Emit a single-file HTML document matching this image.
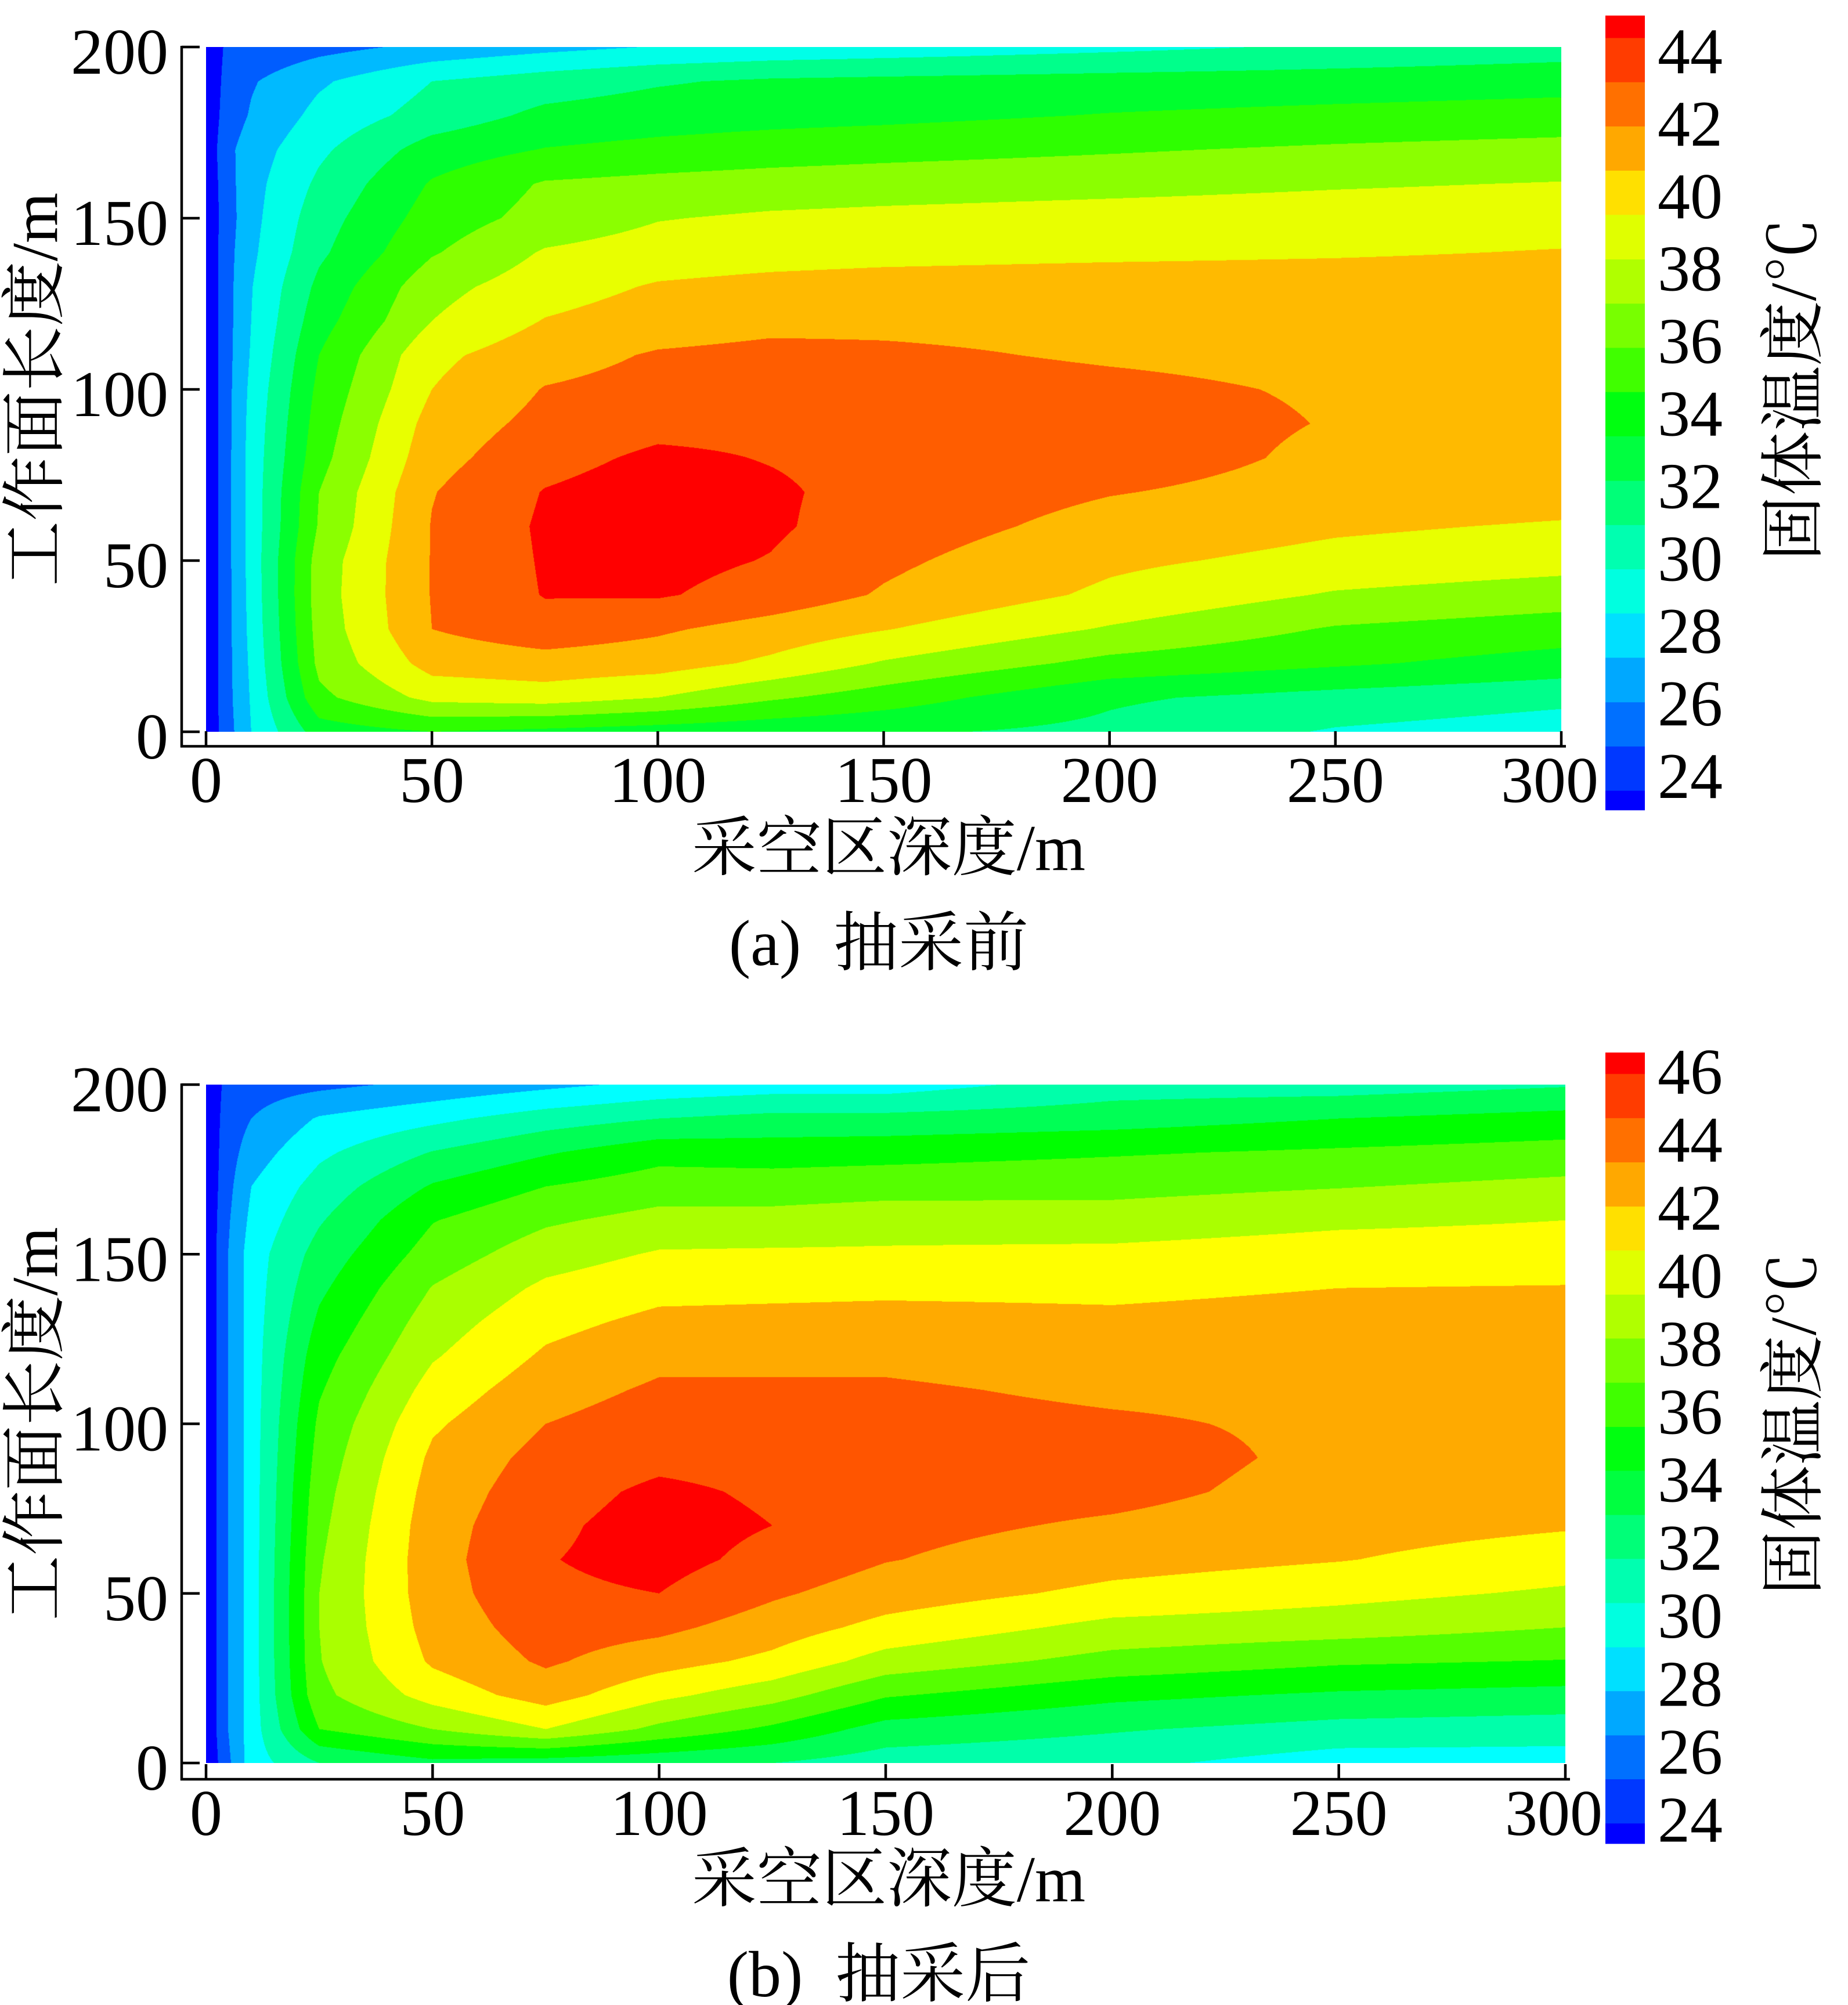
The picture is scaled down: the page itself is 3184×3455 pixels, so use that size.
<!DOCTYPE html>
<html><head><meta charset="utf-8">
<style>
html,body{margin:0;padding:0;background:#fff;}
#page{position:relative;width:3184px;height:3455px;overflow:hidden;background:#fff;}
canvas{position:absolute;}
svg{position:absolute;left:0;top:0;}
text{font-family:"Liberation Serif","Noto Serif CJK SC",serif;fill:#000;}
</style></head>
<body>
<div id="page">
<canvas id="cvA"></canvas>
<canvas id="cvB"></canvas>
<svg id="ov" width="3184" height="3455" viewBox="0 0 3184 3455"></svg>
</div>
<script>
// ---- data ----
const gridX = [0,4,10,25,50,75,100,125,150,200,250,300];
const gridY = [0,10,20,30,40,50,60,70,80,90,100,110,120,130,140,150,160,170,180,190,200];
const tempA = [
[22,24.8,28,33,34,33.5,33,32.6,32.3,31.5,29.8,29],
[22,25,28.2,35.5,38.6,39,38,36.3,35,32.3,31.3,30.5],
[22,25,28.4,36.5,40.8,41.2,40.9,39.6,37.8,35.4,34.3,33.2],
[22,25,28.6,36.8,42,43.2,42.3,41.2,40.1,37.8,35.8,35],
[22,25,28.7,37,42.1,44.1,44.2,43.2,41.8,39.6,37.8,37],
[22,25,28.8,36.9,42.1,44.2,44.6,43.9,42.4,40.4,39.4,38.8],
[22,25,28.8,36.2,42.1,44.3,45.2,44.3,43,41.3,40.3,39.8],
[22,25,28.8,36,41.9,44.1,45,44.3,43.3,42.1,41.3,40.9],
[22,25,28.8,35.3,41.3,43.3,44.4,43.9,43.4,42.9,41.6,41.4],
[22,25,28.7,34.9,40.8,42.6,43.4,43.5,43.3,42.8,41.9,41.5],
[22,25,28.5,34.5,40,42.1,42.7,42.9,42.8,42.4,41.8,41.4],
[22,25,28.2,34,39.5,41.2,42.2,42.5,42.3,41.8,41.5,41.3],
[22,25,28,33.2,38,40.1,41,41.5,41.6,41.5,41.4,41.3],
[22,25,27.9,32.5,37.3,39.1,40.2,40.6,40.8,41,41,41],
[22,25,27.6,31.6,35.8,38.2,38.9,39.2,39.4,39.6,39.8,40.1],
[22,24.8,27.4,31.1,34.9,36.7,37.9,38.3,38.5,38.8,39,39.2],
[22,25,27.3,30.4,34.2,36.2,36.6,36.9,37.1,37.4,37.8,38.1],
[22,25.3,27,29.6,32.9,34.1,34.6,35,35.3,35.8,36.3,36.7],
[22,24.7,26.2,28.6,30.8,32.5,33,33.3,33.5,34.1,34.5,34.8],
[22,24.4,25.8,27.7,30,31,31.8,32.3,32.5,32.8,33,33.3],
[22,24.1,24.4,25.3,26.5,27.4,28.1,28.5,28.8,29.5,30.3,31]
];
const tempB = [
[22,25,29,32,33.5,33,32.5,32,31,30.5,29,29],
[22,25.5,29,36,38,40,37.5,35.6,33.2,32.2,31.3,31],
[22,25.5,29,37.5,40.8,42.9,40.5,38.8,36.2,34.5,33.7,33.3],
[22,25.5,29,37.9,42.3,44.3,42.8,41.5,39.2,37.3,36.3,35.9],
[22,25.5,29,38,42.8,45,44.5,43,41.4,39.4,38.9,38],
[22,25.5,29,38,43.1,45.6,46,44.3,43,41.5,40.6,39.7],
[22,25.5,29,37.8,43.2,45.9,46.7,45.4,44.1,42.8,42.1,41],
[22,25.5,29,37.5,43.1,45.6,46.8,46,44.6,43.7,42.8,42.2],
[22,25.5,29,37.2,42.8,45.2,46.4,45.7,45,44.6,43.2,42.8],
[22,25.5,29,36.8,42.4,44.7,45.5,45.3,45.1,44.9,43.5,43.2],
[22,25.5,29,36.4,41.7,44,45,44.8,44.8,44.3,43.6,43.4],
[22,25.5,29,35.8,40.8,43.2,44.3,44.3,44.3,43.6,43.5,43.3],
[22,25.5,29,35.2,39.8,42.3,43.5,43.5,43.5,42.9,43.2,43],
[22,25.5,29,34.4,39,41.4,42.5,42.6,42.7,42.4,42.7,42.6],
[22,25.5,29,33.6,38.1,40.4,41.4,41.5,41.6,41.6,42,42.1],
[22,25.5,29,32.8,36.9,39.1,40.2,40.3,40.3,40.5,41,41],
[22,25.3,28.5,31.8,35.9,37.7,38.7,38.7,39.1,38.9,39.6,40],
[22,25,28,30.8,34.2,36,37,37,37.2,37.4,37.9,38.5],
[22,24.8,27,29.6,32.1,33.8,35.3,35.1,35.3,35.8,36.3,36.8],
[22,24.6,26,28.2,29.5,31,32,32.6,32.6,33.1,34,34.7],
[22,24.3,25,25.5,26.5,27.5,28.5,29,29,31,31,31.8]
];
const levelsA = [24,26,28,30,32,34,36,38,40,42,44];
const levelsB = [24,26,28,30,32,34,36,38,40,42,44,46];
const colorsA = ['#0000ff','#005dff','#00baff','#00ffe8','#00ff8b','#00ff2e','#2eff00','#8bff00','#e8ff00','#ffba00','#ff5d00','#ff0000'];
const colorsB = ['#0000ff','#0055ff','#00aaff','#00ffff','#00ffaa','#00ff55','#00ff00','#55ff00','#aaff00','#ffff00','#ffaa00','#ff5500','#ff0000'];
const cbLevelsA = [23.06,23.60,24.82,26.04,27.27,28.49,29.71,30.93,32.15,33.38,34.60,35.82,37.04,38.26,39.49,40.71,41.93,43.15,44.37,44.98];
const cbLevelsB = [23.30,23.90,25.20,26.49,27.79,29.08,30.38,31.68,32.97,34.27,35.56,36.86,38.16,39.45,40.75,42.04,43.34,44.64,45.94,46.56];
const cbColors = ['#0000ff','#0038ff','#0070ff','#00a8ff','#00e0ff','#00ffe0','#00ffb0','#00ff78','#00ff40','#00ff10','#40ff00','#78ff00','#b0ff00','#e0ff00','#ffe000','#ffa800','#ff7000','#ff3c00','#ff0000'];
const cbTicksA = [24,26,28,30,32,34,36,38,40,42,44];
const cbTicksB = [24,26,28,30,32,34,36,38,40,42,44,46];
const xTicks = [0,50,100,150,200,250,300];
const yTicks = [0,50,100,150,200];

// ---- layout ----
const panels = [
 {cv:'cvA', T:tempA, lv:levelsA, col:colorsA, cb:cbLevelsA, cbt:cbTicksA, L:355, R:2690, Tp:81, B:1261, axB:1286,
  cbY:v=>88+(44-v)*62.45, cap:'(a)\u00a0\u00a0抽采前', id:'a'},
 {cv:'cvB', T:tempB, lv:levelsB, col:colorsB, cb:cbLevelsB, cbt:cbTicksB, L:355, R:2697, Tp:1869, B:3038, axB:3066,
  cbY:v=>1846.5+(46-v)*58.6, cap:'(b)\u00a0\u00a0抽采后', id:'b'}
];
const NS='http://www.w3.org/2000/svg';
const ov=document.getElementById('ov');
function mk(tag,attrs,parent){const e=document.createElementNS(NS,tag);for(const k in attrs)e.setAttribute(k,attrs[k]);(parent||ov).appendChild(e);return e;}
function hex(c){return [parseInt(c.slice(1,3),16),parseInt(c.slice(3,5),16),parseInt(c.slice(5,7),16)];}

function sample(T,v,w){
  let i=0;while(i<gridX.length-2&&v>gridX[i+1])i++;
  let j=0;while(j<gridY.length-2&&w>gridY[j+1])j++;
  const tx=(v-gridX[i])/(gridX[i+1]-gridX[i]);
  const ty=(w-gridY[j])/(gridY[j+1]-gridY[j]);
  const a=T[j][i],b=T[j][i+1],c=T[j+1][i],d=T[j+1][i+1];
  return (a*(1-tx)+b*tx)*(1-ty)+(c*(1-tx)+d*tx)*ty;
}

panels.forEach(p=>{
  const W=p.R-p.L,H=p.B-p.Tp;
  const cv=document.getElementById(p.cv);
  cv.width=W;cv.height=H;cv.style.left=p.L+'px';cv.style.top=p.Tp+'px';
  const ctx=cv.getContext('2d');const img=ctx.createImageData(W,H);const dd=img.data;
  const rgb=p.col.map(hex);
  for(let y=0;y<H;y++){
    const w=(H-y-0.5)/H*200;
    for(let x=0;x<W;x++){
      const v=(x+0.5)/W*300;
      const t=sample(p.T,v,w);
      let k=0;while(k<p.lv.length&&t>=p.lv[k])k++;
      const c=rgb[k];const o=(y*W+x)*4;
      dd[o]=c[0];dd[o+1]=c[1];dd[o+2]=c[2];dd[o+3]=255;
    }
  }
  ctx.putImageData(img,0,0);

  const px=v=>p.L+v*(p.R-p.L)/300;
  const py=w=>p.B-w*(p.B-p.Tp)/200;
  const g=mk('g',{});
  
  
  // axis lines
  const la=mk('line',{x1:313,y1:p.Tp-2,x2:313,y2:p.axB+2,stroke:'#000','stroke-width':4.5},g);
  
  
  const ba=mk('line',{x1:311,y1:p.axB,x2:p.R+8,y2:p.axB,stroke:'#000','stroke-width':4.5},g);
  
  
  yTicks.forEach(t=>{
    const l=mk('line',{x1:313,y1:py(t),x2:344,y2:py(t),stroke:'#000','stroke-width':4.5},g);
    
    
    const tx=mk('text',{x:290,y:py(t)+46,'font-size':112,'text-anchor':'end'},g);
    
    
    tx.textContent=t;
  });
  xTicks.forEach(t=>{
    const l=mk('line',{x1:px(t),y1:p.axB,x2:px(t),y2:p.axB-26,stroke:'#000','stroke-width':4.5},g);
    
    
    const tx=mk('text',{x:px(t)+(t===300?-20:0),y:p.axB+96,'font-size':112,'text-anchor':'middle'},g);
    
    
    tx.textContent=t;
  });
  const xt=mk('text',{x:1531,y:p.B+238,'font-size':112,'text-anchor':'middle'},g);
  
  
  xt.textContent='采空区深度/m';
  const cy=(p.Tp+p.B)/2;
  const yt=mk('text',{x:0,y:0,'font-size':112,'text-anchor':'middle',transform:`translate(98,${cy}) rotate(-90)`},g);
  
  
  yt.textContent='工作面长度/m';
  const cap=mk('text',{x:1514,y:p.B+402,'font-size':112,'text-anchor':'middle'},g);
  
  
  cap.textContent=p.cap;
  // colorbar
  const cbg=mk('g',{});
  
  
  for(let k=0;k<p.cb.length-1;k++){
    const y1=p.cbY(p.cb[k+1]),y2=p.cbY(p.cb[k]);
    const r=mk('rect',{x:2766,y:y1,width:68,height:y2-y1+0.6,fill:cbColors[k]},cbg);
    
    
  }
  p.cbt.forEach(t=>{
    const tx=mk('text',{x:2856,y:p.cbY(t)+38,'font-size':112},cbg);
    
    
    tx.textContent=t;
  });
  const ct=mk('text',{x:0,y:0,'font-size':112,'text-anchor':'middle',transform:`translate(3128,${cy}) rotate(-90)`},cbg);
  
  
  ct.textContent='固体温度/℃';
});
</script>
</body></html>
